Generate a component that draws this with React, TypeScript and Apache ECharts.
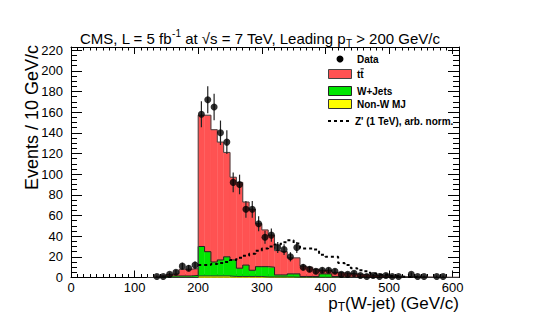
import React, { useEffect, useRef } from "react";
import * as echarts from "echarts";

const BIN_WIDTH = 10;
const binLow = [120, 130, 140, 150, 160, 170, 180, 190, 200, 210, 220, 230, 240, 250, 260, 270, 280, 290, 300, 310, 320, 330, 340, 350, 360, 370, 380, 390, 400, 410, 420, 430, 440, 450, 460, 470, 480, 490, 500, 510, 520, 530, 540, 550, 560, 570, 580, 590, 600];
const ttbar = [0, 0.2, 0.5, 1.5, 2, 6.5, 6.5, 6.5, 127, 132, 128, 114, 101, 80, 83, 61, 59, 41.5, 35.5, 31, 23.5, 22.5, 15.5, 15.5, 10, 9, 7, 3.5, 3.5, 4, 4, 3.5, 3, 2.5, 2.2, 1.7, 1.4, 1.3, 1, 0.8, 0.7, 0.6, 0.3, 0.4, 0.4, 0.3, 0.3, 0.2, 0.2];
const wjets = [0, 0.3, 1, 1.5, 1.5, 1.5, 1.5, 2, 28.5, 23.5, 13.5, 15.5, 18.5, 16, 8, 11, 6, 9.5, 10, 9.5, 2, 2, 3, 3.2, 0.7, 0.7, 0.8, 3.3, 3.3, 0.8, 0.5, 0.5, 0.5, 0.5, 0.3, 0.3, 0.3, 0.2, 0.2, 0.2, 0.1, 0.1, 0.3, 0.1, 0, 0, 0, 0, 0];
const nonW = [0, 0, 0, 0, 0, 0, 0, 0, 1.5, 1.5, 1.5, 1.5, 1.5, 1, 1, 1, 1, 1, 0.5, 0.5, 0.5, 0.5, 0.5, 0.3, 0.3, 0.3, 0.2, 0.2, 0.2, 0.2, 0, 0, 0, 0, 0, 0, 0, 0, 0, 0, 0, 0, 0, 0, 0, 0, 0, 0, 0];
const dataCounts = [0, 1, 1, 3, 5, 11, 9, 12, 158, 172, 165, 140, 131, 92, 90, 66, 66, 52, 39, 41, 29, 27, 20, 29, 10, 8, 6, 7, 7, 6, 3, 3, 4, 2, 1, 2, 1, 2, 1, 1, 0, 3, 1, 1, 0, 1, 1, 0, 0];
const zprime = [0, 0, 0, 0, 0, 0, 0, 0, 12, 12, 13, 14, 15, 17, 19, 21, 23, 26, 28, 30, 32, 34, 36, 33, 28, 28, 27, 22, 20, 20, 14, 12, 9, 7, 6, 4, 3, 2.5, 1.5, 1, 0.6, 0.4, 0.2, 0, 0, 0, 0, 0, 0];

const X_MIN = 0;
const X_MAX = 610;
const Y_MIN = 0;
const Y_MAX = 223;

const RED = "#ff5252";
const GREEN = "#00e600";
const YELLOW = "#ffff00";
const FONT = "'Liberation Sans', Arial, Helvetica, sans-serif";

export default function App() {
  const ref = useRef<HTMLDivElement>(null);

  useEffect(() => {
    if (!ref.current) return;
    const chart = echarts.init(ref.current, null, { renderer: "svg" });

    const stackData = binLow.map((lo, i) => [lo, lo + BIN_WIDTH, nonW[i], wjets[i], ttbar[i]]);
    const lvl1 = nonW.map((v) => v);
    const lvl2 = nonW.map((v, i) => v + wjets[i]);
    const lvl3 = lvl2.map((v, i) => v + ttbar[i]);
    const last = binLow.length - 1;
    const stepPts = (vals: number[]) => [
      ...binLow.map((lo, i) => [lo, vals[i]]),
      [binLow[last] + BIN_WIDTH, vals[last]],
    ];
    const zIdx = binLow.map((lo, i) => i).filter((i) => binLow[i] >= 200 && binLow[i] <= 540);
    const zPts = [
      ...zIdx.map((i) => [binLow[i], zprime[i]]),
      [binLow[zIdx[zIdx.length - 1]] + BIN_WIDTH, zprime[zIdx[zIdx.length - 1]]],
    ];
    const dataPts = binLow
      .map((lo, i) => [lo + BIN_WIDTH / 2, dataCounts[i]])
      .filter((p) => p[1] > 0);

    const axisCommonX = {
      type: "value",
      min: X_MIN,
      max: X_MAX,
      interval: 100,
      axisLine: { show: true, onZero: false, lineStyle: { color: "#000", width: 1 } },
      splitLine: { show: false },
    };
    const axisCommonY = {
      type: "value",
      min: Y_MIN,
      max: Y_MAX,
      interval: 20,
      axisLine: { show: true, onZero: false, lineStyle: { color: "#000", width: 1 } },
      splitLine: { show: false },
    };

    const option: any = {
      animation: false,
      backgroundColor: "#fff",
      grid: { left: 71, right: 81, top: 47, bottom: 42.5, containLabel: false },
      xAxis: [
        {
          ...axisCommonX,
          position: "bottom",
          axisTick: { show: true, inside: true, length: 7, lineStyle: { color: "#000" } },
          minorTick: { show: true, splitNumber: 10, length: 3.5, lineStyle: { color: "#000" } },
          axisLabel: {
            show: true,
            margin: 3,
            color: "#000",
            fontSize: 13,
            fontFamily: FONT,
            showMaxLabel: false,
          },
        },
        {
          ...axisCommonX,
          position: "top",
          axisTick: { show: true, inside: true, length: 7, lineStyle: { color: "#000" } },
          minorTick: { show: true, splitNumber: 10, length: 3.5, lineStyle: { color: "#000" } },
          axisLabel: { show: false },
        },
      ],
      yAxis: [
        {
          ...axisCommonY,
          position: "left",
          axisTick: { show: true, inside: true, length: 11, lineStyle: { color: "#000" } },
          minorTick: { show: true, splitNumber: 4, length: 6, lineStyle: { color: "#000" } },
          axisLabel: {
            show: true,
            margin: 8,
            color: "#000",
            fontSize: 13,
            fontFamily: FONT,
            showMaxLabel: false,
          },
        },
        {
          ...axisCommonY,
          position: "right",
          axisTick: { show: true, inside: true, length: 11, lineStyle: { color: "#000" } },
          minorTick: { show: true, splitNumber: 4, length: 6, lineStyle: { color: "#000" } },
          axisLabel: { show: false },
        },
      ],
      series: [
        {
          type: "custom",
          name: "stack",
          z: 1,
          xAxisIndex: 0,
          yAxisIndex: 0,
          encode: { x: [0, 1], y: [2] },
          data: stackData,
          renderItem: (params: any, api: any) => {
            const lo = api.value(0);
            const hi = api.value(1);
            const a = api.value(2);
            const b = api.value(3);
            const c = api.value(4);
            const layers = [
              [0, a, YELLOW],
              [a, a + b, GREEN],
              [a + b, a + b + c, RED],
            ];
            const children: any[] = [];
            layers.forEach(([y0, y1, col]) => {
              if ((y1 as number) - (y0 as number) <= 0) return;
              const p0 = api.coord([lo, y1]);
              const p1 = api.coord([hi, y0]);
              children.push({
                type: "rect",
                shape: { x: p0[0], y: p0[1], width: p1[0] - p0[0], height: p1[1] - p0[1] },
                style: { fill: col, stroke: col, lineWidth: 0.4 },
              });
            });
            return { type: "group", children };
          },
        },
        {
          type: "line",
          name: "nonWOutline",
          z: 2,
          step: "end",
          symbol: "none",
          data: stepPts(lvl1),
          lineStyle: { color: "#333", width: 1 },
        },
        {
          type: "line",
          name: "wjetsOutline",
          z: 2,
          step: "end",
          symbol: "none",
          data: stepPts(lvl2),
          lineStyle: { color: "#222", width: 1 },
        },
        {
          type: "line",
          name: "ttOutline",
          z: 2,
          step: "end",
          symbol: "none",
          data: stepPts(lvl3),
          lineStyle: { color: "#444", width: 1 },
        },
        {
          type: "line",
          name: "zprime",
          z: 3,
          step: "end",
          symbol: "none",
          data: zPts,
          lineStyle: { color: "#000", width: 2, type: [3, 3] },
        },
        {
          type: "custom",
          name: "errors",
          z: 4,
          data: dataPts,
          encode: { x: 0, y: 1 },
          renderItem: (params: any, api: any) => {
            const x = api.value(0);
            const n = api.value(1);
            const e = Math.sqrt(n);
            const p0 = api.coord([x, Math.max(0, n - e)]);
            const p1 = api.coord([x, n + e]);
            return {
              type: "line",
              shape: { x1: p0[0], y1: p0[1], x2: p1[0], y2: p1[1] },
              style: { stroke: "#222", lineWidth: 1.2 },
            };
          },
        },
        {
          type: "scatter",
          name: "Data",
          z: 5,
          symbol: "circle",
          symbolSize: 7,
          data: dataPts,
          itemStyle: { color: "#000" },
        },
      ],
      graphic: [
        {
          type: "text",
          x: 80,
          y: 38,
          style: {
            text: "{n|CMS, L = 5 fb}{sup|-1}{n| at √s = 7 TeV, Leading p}{sub|T}{n| > 200 GeV/c}",
            align: "left",
            verticalAlign: "middle",
            fill: "#000",
            rich: {
              n: { fontSize: 15, fontFamily: FONT, lineHeight: 20, fill: "#000" },
              sup: { fontSize: 10, fontFamily: FONT, lineHeight: 10, verticalAlign: "top", fill: "#000" },
              sub: { fontSize: 10, fontFamily: FONT, lineHeight: 10, verticalAlign: "bottom", fill: "#000" },
            },
          },
        },
        {
          type: "text",
          x: 459,
          y: 303,
          style: {
            text: "{n|p}{sub|T}{n|(W-jet) (GeV/c)}",
            align: "right",
            verticalAlign: "middle",
            fill: "#000",
            rich: {
              n: { fontSize: 17, fontFamily: FONT, lineHeight: 19, fill: "#000" },
              sub: { fontSize: 12, fontFamily: FONT, lineHeight: 12, verticalAlign: "bottom", padding: [0, 0, 0, 0], fill: "#000" },
            },
          },
        },
        {
          type: "text",
          x: 32,
          y: 45,
          rotation: Math.PI / 2,
          style: {
            text: "Events / 10 GeV/c",
            align: "right",
            verticalAlign: "middle",
            fill: "#000",
            fontSize: 18,
            fontFamily: FONT,
          },
        },
        // legend
        { type: "circle", shape: { cx: 340, cy: 59, r: 3.5 }, style: { fill: "#000" } },
        {
          type: "text", x: 357, y: 59,
          style: { text: "Data", align: "left", verticalAlign: "middle", fill: "#000", fontSize: 10, fontWeight: "bold", fontFamily: FONT },
        },
        { type: "rect", shape: { x: 328.5, y: 69.5, width: 23, height: 9 }, style: { fill: RED, stroke: "#444", lineWidth: 1 } },
        {
          type: "text", x: 357, y: 74.5,
          style: { text: "tt", align: "left", verticalAlign: "middle", fill: "#000", fontSize: 10, fontWeight: "bold", fontFamily: FONT },
        },
        { type: "line", shape: { x1: 360.6, y1: 68.8, x2: 363.8, y2: 68.8 }, style: { stroke: "#000", lineWidth: 1 } },
        { type: "rect", shape: { x: 328.5, y: 86.5, width: 23, height: 9 }, style: { fill: GREEN, stroke: "#222", lineWidth: 1 } },
        {
          type: "text", x: 357, y: 91,
          style: { text: "W+Jets", align: "left", verticalAlign: "middle", fill: "#000", fontSize: 10, fontWeight: "bold", fontFamily: FONT },
        },
        { type: "rect", shape: { x: 328.5, y: 99.5, width: 23, height: 9 }, style: { fill: YELLOW, stroke: "#333", lineWidth: 1 } },
        {
          type: "text", x: 357, y: 104,
          style: { text: "Non-W MJ", align: "left", verticalAlign: "middle", fill: "#000", fontSize: 10, fontWeight: "bold", fontFamily: FONT },
        },
        { type: "line", shape: { x1: 328, y1: 121, x2: 352, y2: 121 }, style: { stroke: "#000", lineWidth: 2, lineDash: [3, 3] } },
        {
          type: "text", x: 355, y: 121,
          style: { text: "Z' (1 TeV), arb. norm.", align: "left", verticalAlign: "middle", fill: "#000", fontSize: 10, fontWeight: "bold", fontFamily: FONT },
        },
      ],
    };

    chart.setOption(option);
    return () => {
      chart.dispose();
    };
  }, []);

  return (
    <div
      ref={ref}
      style={{ position: "fixed", left: 0, top: 0, width: 540, height: 320, background: "#fff" }}
    />
  );
}
